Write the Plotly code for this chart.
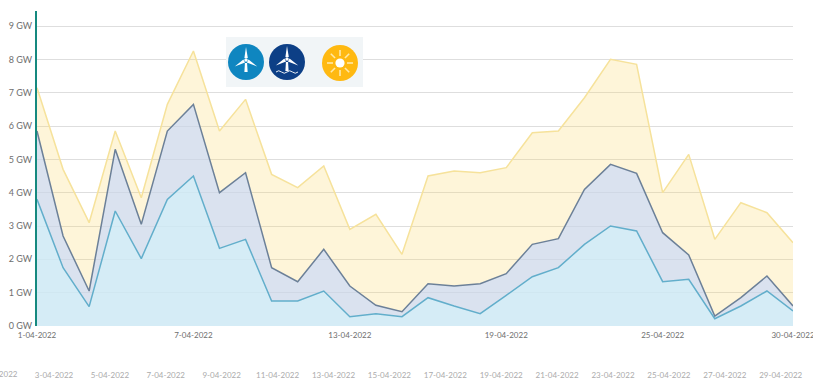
import base64
import datetime as dt
import plotly.graph_objects as go

dates = [f"2022-04-{d:02d}" for d in range(1, 31)]
solar_total = [7.15, 4.7, 3.1, 5.85, 3.85, 6.65, 8.25, 5.85, 6.8, 4.55, 4.15, 4.8, 2.9, 3.35, 2.15,
               4.5, 4.65, 4.6, 4.75, 5.8, 5.85, 6.85, 8.0, 7.85, 4.0, 5.15, 2.6, 3.7, 3.4, 2.5]
offshore_total = [5.85, 2.7, 1.05, 5.3, 3.05, 5.85, 6.65, 4.0, 4.6, 1.75, 1.33, 2.3, 1.2, 0.62, 0.43,
                  1.27, 1.2, 1.27, 1.57, 2.45, 2.62, 4.1, 4.85, 4.58, 2.8, 2.13, 0.3, 0.85, 1.5, 0.6]
onshore = [3.8, 1.75, 0.58, 3.45, 2.02, 3.8, 4.5, 2.33, 2.6, 0.75, 0.75, 1.05, 0.28, 0.37, 0.28,
           0.85, 0.6, 0.37, 0.92, 1.48, 1.75, 2.45, 3.0, 2.85, 1.33, 1.4, 0.22, 0.6, 1.05, 0.45]

y_ticks = list(range(10))
y_labels = [f"{v} GW" for v in y_ticks]
x_ticks = ["2022-04-01", "2022-04-07", "2022-04-13", "2022-04-19", "2022-04-25", "2022-04-30"]
x_labels = ["1-04-2022", "7-04-2022", "13-04-2022", "19-04-2022", "25-04-2022", "30-04-2022"]
x2_ticks = [f"2022-04-{d:02d}" for d in range(3, 30, 2)]
x2_labels = [f"{d}-04-2022" for d in range(3, 30, 2)]

W, H = 830, 386
L, R, T, B = 37, 793, 11, 326


def turbine(cx, cy, waves=False):
    hub = cy - 2
    blades = "".join(
        f'<path transform="rotate({a} {cx} {hub})" d="M{cx-1.6} {hub-2} L{cx} {hub-13} L{cx+1.8} {hub-2} Z" fill="#fff"/>'
        for a in (0, 120, 240)
    )
    s = blades + f'<path d="M{cx-1.1} {hub+3} L{cx+1.1} {hub+3} L{cx+1.6} {hub+12} L{cx-1.6} {hub+12} Z" fill="#fff"/>'
    s += f'<circle cx="{cx}" cy="{hub}" r="1.7" fill="#fff"/>'
    if waves:
        s += f'<path d="M{cx-11} {cy+11} q2.7 -2.5 5.5 0 t5.5 0 t5.5 0 t5.5 0" fill="none" stroke="#fff" stroke-width="0.9"/>'
    return s


rays = "".join(
    f'<rect transform="rotate({a} 115 25)" x="114.2" y="{25-13}" width="1.6" height="6" fill="#FFE9A8"/>'
    for a in range(0, 360, 45)
)
svg = f'''<svg xmlns="http://www.w3.org/2000/svg" width="137" height="50" viewBox="0 0 137 50">
<rect width="137" height="50" fill="#F1F5F7"/>
<circle cx="20" cy="25" r="18" fill="#0F86C0"/>{turbine(20, 25)}
<circle cx="61" cy="25" r="18" fill="#0D3F86"/>{turbine(61, 24, True)}
<circle cx="114" cy="26" r="18" fill="#FFB911"/>
<g transform="translate(-1 1)">{rays}<circle cx="115" cy="25" r="4.6" fill="#fff"/></g>
</svg>'''
svg_uri = "data:image/svg+xml;base64," + base64.b64encode(svg.encode()).decode()

fig = go.Figure()
fig.add_trace(go.Scatter(x=dates, y=solar_total, mode="lines", fill="tozeroy",
                         line=dict(color="#F6E29B", width=1.5), fillcolor="rgba(253,215,105,0.25)"))
fig.add_trace(go.Scatter(x=dates, y=offshore_total, mode="lines", fill="tozeroy",
                         line=dict(color="#6C8098", width=1.5), fillcolor="rgba(194,214,254,0.6)"))
fig.add_trace(go.Scatter(x=dates, y=onshore, mode="lines", fill="tozeroy",
                         line=dict(color="#62AECB", width=1.5), fillcolor="rgba(208,246,254,0.5)"))
fig.add_trace(go.Scatter(x=dates, y=[0] * len(dates), xaxis="x2", yaxis="y2", mode="lines",
                         line=dict(width=0), hoverinfo="skip"))

font = "Lato, 'Open Sans', sans-serif"
d3 = dt.datetime(2022, 4, 3)
x2_start = d3 - dt.timedelta(days=54 / 27.95)
x2_end = d3 + dt.timedelta(days=(W - 54) / 27.95)

fig.update_layout(
    width=W, height=H, margin=dict(l=0, r=0, t=0, b=0, pad=0, autoexpand=False),
    paper_bgcolor="white", plot_bgcolor="rgba(0,0,0,0)", showlegend=False,
    xaxis=dict(domain=[L / W, R / W], type="date", range=["2022-04-01", "2022-04-30"],
               tickmode="array", tickvals=x_ticks, ticktext=x_labels, showgrid=False,
               zeroline=False, showline=False, ticks="outside", ticklen=1, tickcolor="rgba(0,0,0,0)",
               tickangle=0, tickfont=dict(family=font, size=8, color="#6E6E6E"), anchor="y"),
    xaxis2=dict(domain=[0, 1], type="date", range=[x2_start, x2_end], anchor="free",
                position=1 - 369 / H, tickmode="array", tickvals=x2_ticks, ticktext=x2_labels,
                showgrid=False, zeroline=False, showline=False, tickangle=0,
                tickfont=dict(family=font, size=8, color="#ABABAB")),
    yaxis=dict(domain=[1 - B / H, 1 - T / H], range=[0, (B - T) / 33.33], tickmode="array",
               tickvals=y_ticks, ticktext=y_labels, showgrid=True, gridcolor="#DEDEDE", gridwidth=1.2,
               zeroline=False, showline=True, linecolor="#15897F", linewidth=2, ticks="outside",
               ticklen=1, tickcolor="rgba(0,0,0,0)",
               tickfont=dict(family=font, size=9, color="#6E6E6E"), anchor="x"),
    yaxis2=dict(domain=[1 - B / H, 1 - T / H], range=[0, 1], visible=False, showgrid=False,
                zeroline=False, anchor="x2"),
    annotations=[dict(text="1-04-2022", xref="paper", yref="paper", x=-2 / W, y=1 - 374 / H,
                      showarrow=False, xanchor="center", yanchor="middle",
                      font=dict(family=font, size=8, color="#ABABAB"))],
    images=[dict(source=svg_uri, xref="paper", yref="paper", x=226 / W, y=1 - 37 / H,
                 sizex=137 / W, sizey=50 / H, xanchor="left", yanchor="top",
                 sizing="stretch", layer="above")],
    shapes=[dict(type="rect", xref="paper", yref="paper", x0=813 / W, x1=1, y0=0, y1=1,
                 fillcolor="white", line=dict(width=0), layer="above")],
)

fig.write_html("out.html", config={"displayModeBar": False},
               post_script="document.body.style.margin='0';")
